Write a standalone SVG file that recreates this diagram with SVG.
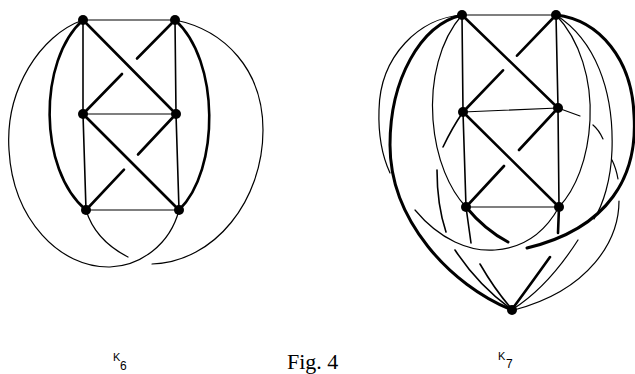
<svg xmlns="http://www.w3.org/2000/svg" width="635" height="374" viewBox="0 0 635 374">
<style>
path, line { fill: none; stroke: #000; stroke-linecap: round; }
.t { stroke-width: 1.2; }
.m { stroke-width: 1.6; }
.k { stroke-width: 2.6; }
.x { stroke-width: 3; }
.node { fill: #000; }
.lbl { font-family: "Liberation Sans", Arial, sans-serif; fill: #000; }
.cap { font-family: "Liberation Serif", "Times New Roman", serif; font-size: 22px; fill: #000; }
</style>
<rect width="635" height="374" fill="#fff"/>

<g id="k6-edges">
  <line class="t" x1="83" y1="20" x2="175" y2="20"/>
  <line class="m" x1="83" y1="20" x2="83" y2="114"/>
  <line class="m" x1="83" y1="114" x2="86" y2="210"/>
  <line class="m" x1="175" y1="20" x2="176" y2="114"/>
  <line class="m" x1="176" y1="114" x2="179" y2="210"/>
  <line class="t" x1="83" y1="114" x2="176" y2="114"/>
  <line class="t" x1="86" y1="210" x2="179" y2="210"/>
  <line class="k" x1="83" y1="20" x2="176" y2="114"/>
  <line class="k" x1="83" y1="114" x2="179" y2="210"/>
  <path class="k" d="M175,20 L137,58.5 M122,74 L83,114"/>
  <path class="k" d="M176,114 L138,154.5 M124,169.6 L86,210"/>
  <path class="k" d="M83,20 C38,60 38,170 86,210"/>
  <path class="k" d="M175,20 C220,60 220,170 179,210"/>
  <path class="t" d="M83,20 C40,35 5,90 9,150 C13,220 60,268 110,267 C140,266 170,245 179,210"/>
  <path class="t" d="M175,20 C225,30 263,70 263,130 C263,200 215,262 152,264"/>
  <path class="t" d="M86,210 Q95,240 128,257"/>
</g>

<g id="k7-edges">
  <line class="t" x1="462" y1="15" x2="556" y2="15"/>
  <line class="m" x1="462" y1="15" x2="463" y2="112"/>
  <line class="m" x1="463" y1="112" x2="466" y2="207"/>
  <line class="m" x1="556" y1="15" x2="558" y2="108"/>
  <line class="m" x1="558" y1="108" x2="559" y2="207"/>
  <line class="t" x1="463" y1="112" x2="558" y2="108"/>
  <line class="t" x1="466" y1="207" x2="559" y2="207"/>
  <line class="k" x1="462" y1="15" x2="558" y2="108"/>
  <line class="k" x1="463" y1="112" x2="559" y2="207"/>
  <path class="k" d="M556,15 L517,55.7 M503,70.3 L463,112"/>
  <path class="k" d="M558,108 L519,150 M504,166 L466,207"/>
  <path class="x" d="M462,15 C420,25 390,80 390,145 C390,220 450,285 512,310"/>
  <path class="t" d="M462,15 C420,18 380,55 379,110 C378,140 384,160 390,173"/>
  <path class="t" d="M415,210 C440,240 470,252 495,250 C525,248 545,232 559,207"/>
  <path class="t" d="M462,15 C440,40 430,80 433,120 C436,160 450,190 466,207"/>
  <path class="m" d="M463,112 Q452,128 443,147 M437,170 Q437,205 446,232 M455,250 Q478,285 511,309"/>
  <path class="m" d="M466,207 L471,243 M480,264 Q495,290 511,308"/>
  <path class="x" d="M466,207 Q485,230 508,242"/>
  <path class="x" d="M556,15 C600,20 632,60 634,115 C638,175 610,228 527,248"/>
  <path class="k" d="M559,207 L558,233 M550,257 Q530,285 513,308"/>
  <path class="t" d="M556,15 C580,40 592,80 590,120 C588,160 575,190 559,207"/>
  <path class="t" d="M556,15 C595,40 614,90 612,150 C611,180 603,205 594,219 M578,240 C560,268 540,292 513,309"/>
  <path class="t" d="M558,108 L580,116 M593,125 Q599,130 603,139 M612,160 Q616,168 618,179 M619,201 C619,240 590,290 514,310"/>
</g>

<g id="k6-TL"><circle class="node" cx="83" cy="20" r="5"/></g>
<g id="k6-TR"><circle class="node" cx="175" cy="20" r="5"/></g>
<g id="k6-ML"><circle class="node" cx="83" cy="114" r="5"/></g>
<g id="k6-MR"><circle class="node" cx="176" cy="114" r="5"/></g>
<g id="k6-BL"><circle class="node" cx="86" cy="210" r="5"/></g>
<g id="k6-BR"><circle class="node" cx="179" cy="210" r="5"/></g>

<g id="k7-TL"><circle class="node" cx="462" cy="15" r="5"/></g>
<g id="k7-TR"><circle class="node" cx="556" cy="15" r="5"/></g>
<g id="k7-ML"><circle class="node" cx="463" cy="112" r="5"/></g>
<g id="k7-MR"><circle class="node" cx="558" cy="108" r="5"/></g>
<g id="k7-BL"><circle class="node" cx="466" cy="207" r="5"/></g>
<g id="k7-BR"><circle class="node" cx="559" cy="207" r="5"/></g>
<g id="k7-B"><circle class="node" cx="512" cy="310" r="5"/></g>

<g id="labels">
  <text class="lbl" x="113" y="361" font-size="11">K</text>
  <text class="lbl" x="120" y="370" font-size="12">6</text>
  <text class="lbl" x="498" y="360" font-size="11">K</text>
  <text class="lbl" x="506" y="368" font-size="12">7</text>
  <text class="cap" x="287" y="369">Fig. 4</text>
</g>
</svg>
